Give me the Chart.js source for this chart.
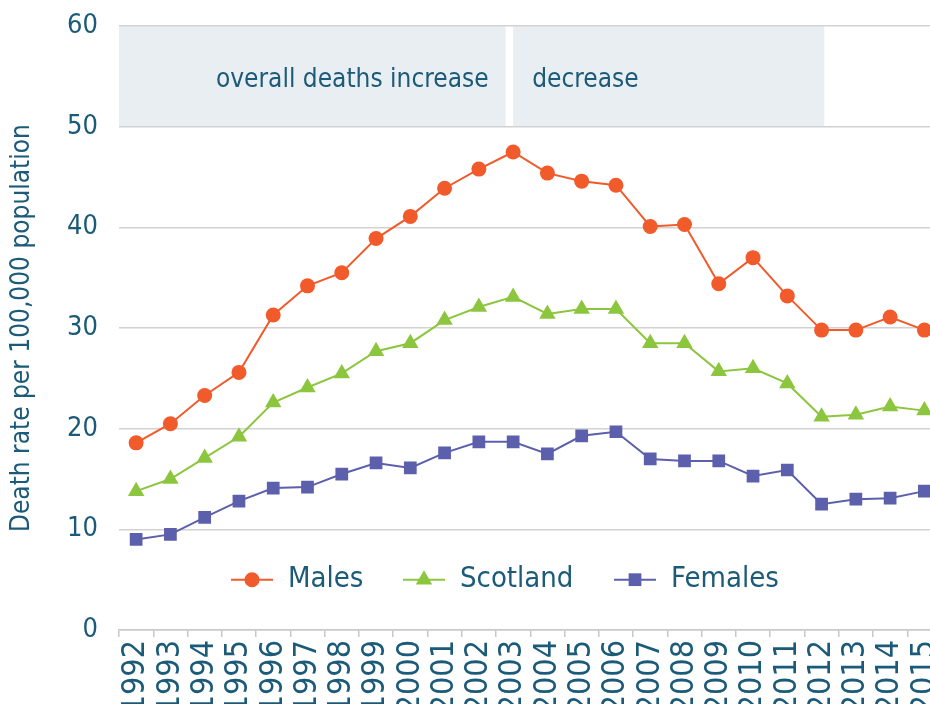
<!DOCTYPE html>
<html>
<head>
<meta charset="utf-8">
<script src="https://cdn.jsdelivr.net/npm/chart.js@4/dist/chart.umd.min.js"></script>
<style>
  html, body { margin: 0; padding: 0; background: #fff; overflow: hidden; }
  #wrap { width: 966px; height: 715px; margin-top: -11px; }
</style>
</head>
<body>
<div id="wrap"><canvas id="chart"></canvas></div>
<script>
var years = ['1992','1993','1994','1995','1996','1997','1998','1999','2000','2001','2002','2003',
             '2004','2005','2006','2007','2008','2009','2010','2011','2012','2013','2014','2015'];
var males    = [18.6,20.5,23.3,25.6,31.3,34.2,35.5,38.9,41.1,43.9,45.8,47.5,
                45.4,44.6,44.2,40.1,40.3,34.4,37.0,33.2,29.8,29.8,31.1,29.8];
var scotland = [13.8,15.0,17.1,19.2,22.6,24.1,25.5,27.7,28.5,30.8,32.1,33.1,
                31.4,31.9,31.9,28.5,28.5,25.7,26.0,24.5,21.2,21.4,22.2,21.8];
var females  = [9.0,9.5,11.2,12.8,14.1,14.2,15.5,16.6,16.1,17.6,18.7,18.7,
                17.5,19.3,19.7,17.0,16.8,16.8,15.3,15.9,12.5,13.0,13.1,13.8];
var yTicks = [0,10,20,30,40,50,60];

// shaded period bands (x as category index, y as value)
var bandLabels = ['overall deaths increase', 'decrease'];
var bandFrom   = [-0.5, 11];
var bandTo     = [10.78, 20.08];
var bandAlign  = ['right', 'left'];

var FONT = "'DejaVu Sans Condensed', 'DejaVu Sans', sans-serif";
var TEXT = '#1b5a78';

var bandPlugin = {
  id: 'bands',
  beforeDraw: function(chart) {
    var ctx = chart.ctx, x = chart.scales.x, y = chart.scales.y;
    var top = y.getPixelForValue(60), bot = y.getPixelForValue(50);
    ctx.save();
    ctx.font = '26px ' + FONT;
    ctx.textBaseline = 'middle';
    for (var i = 0; i < bandLabels.length; i++) {
      var l = x.getPixelForValue(bandFrom[i]), r = x.getPixelForValue(bandTo[i]);
      ctx.fillStyle = '#e8eef1';
      ctx.fillRect(l, top, r - l, bot - top);
      ctx.fillStyle = TEXT;
      ctx.textAlign = bandAlign[i];
      ctx.fillText(bandLabels[i], bandAlign[i] == 'right' ? r - 17 : l + 19, (top + bot) / 2 + 4);
    }
    ctx.restore();
  }
};

var legendPlugin = {
  id: 'inlineLegend',
  afterDraw: function(chart) {
    var ctx = chart.ctx, area = chart.chartArea;
    var starts = [112, 284, 495];
    var yy = chart.scales.y.getPixelForValue(5);
    ctx.save();
    chart.data.datasets.forEach(function(ds, i) {
      var x0 = area.left + starts[i];
      ctx.strokeStyle = ds.borderColor;
      ctx.lineWidth = 2;
      ctx.beginPath();
      ctx.moveTo(x0, yy);
      ctx.lineTo(x0 + 42, yy);
      ctx.stroke();
      ctx.fillStyle = ds.backgroundColor;
      Chart.helpers.drawPoint(ctx, {pointStyle: ds.pointStyle, radius: ds.pointRadius, borderWidth: 0}, x0 + 21, yy);
      ctx.fillStyle = TEXT;
      ctx.font = '29px ' + FONT;
      ctx.textAlign = 'left';
      ctx.textBaseline = 'middle';
      ctx.fillText(ds.label, x0 + 57, yy);
    });
    ctx.restore();
  }
};

new Chart(document.getElementById('chart'), {
  type: 'line',
  data: {
    labels: years,
    datasets: [
      { label: 'Males', data: males, borderColor: '#f15a2b', backgroundColor: '#f15a2b',
        pointStyle: 'circle', pointRadius: 7.5, borderWidth: 2, pointBorderWidth: 0 },
      { label: 'Scotland', data: scotland, borderColor: '#8cc63f', backgroundColor: '#8cc63f',
        pointStyle: 'triangle', pointRadius: 9.5, borderWidth: 2, pointBorderWidth: 0 },
      { label: 'Females', data: females, borderColor: '#5b5fac', backgroundColor: '#5b5fac',
        pointStyle: 'rect', pointRadius: 9, borderWidth: 2, pointBorderWidth: 0 }
    ]
  },
  options: {
    responsive: true,
    maintainAspectRatio: false,
    animation: false,
    layout: { padding: { top: 13, right: 0, bottom: 0, left: 0 } },
    plugins: { legend: { display: false }, tooltip: { enabled: false } },
    scales: {
      x: {
        type: 'category',
        offset: true,
        grid: { offset: true, drawOnChartArea: false, color: '#c8c8c8', lineWidth: 1.5, tickLength: 7 },
        border: { color: '#c8c8c8', width: 1.5 },
        ticks: { color: TEXT, font: { family: FONT, size: 32 }, minRotation: 90, maxRotation: 90, padding: 3, autoSkip: false },
        afterFit: function(s) { s.height = 74; }
      },
      y: {
        min: 0, max: 60,
        afterBuildTicks: function(s) { s.ticks = yTicks.map(function(v) { return { value: v }; }); },
        grid: { color: '#d2d2d2', lineWidth: 1.5, drawTicks: false },
        border: { display: false },
        ticks: { color: TEXT, font: { family: FONT, size: 27 }, padding: 21 },
        title: { display: true, text: 'Death rate per 100,000 population', color: TEXT,
                 font: { family: FONT, size: 26 }, padding: { top: 7, bottom: 0 } },
        afterFit: function(s) { s.width = 119; }
      }
    }
  },
  plugins: [bandPlugin, legendPlugin]
});
</script>
</body>
</html>
